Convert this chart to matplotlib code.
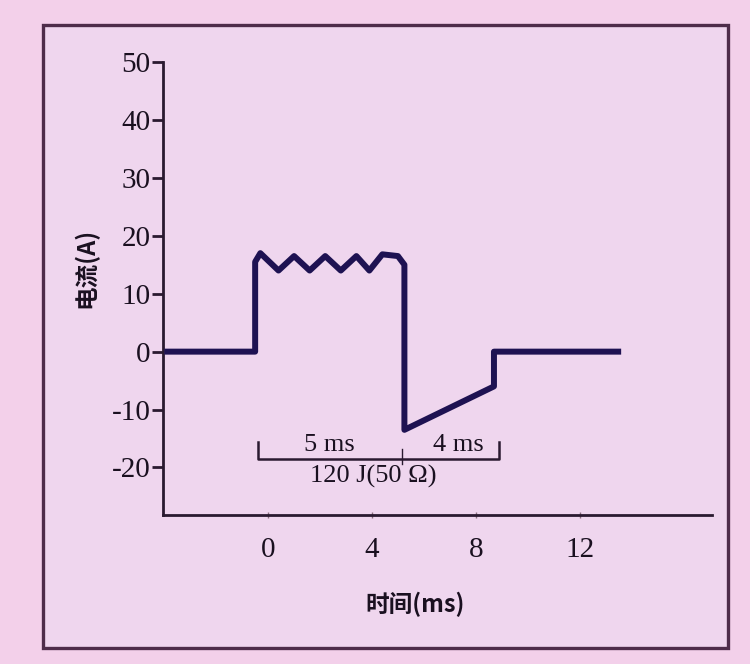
import matplotlib
matplotlib.use("Agg")
import matplotlib.pyplot as plt
from matplotlib.patches import Rectangle

# waveform (biphasic pulse), time in ms, current in A
t_ms = [-4.0, -0.5, -0.5, -0.3, 0.4, 1.0, 1.6, 2.2, 2.8, 3.4, 3.9, 4.4, 5.0, 5.25, 5.25, 8.7, 8.7, 13.6]
current = [0, 0, 15.5, 17, 14, 16.5, 14, 16.5, 14, 16.5, 14, 16.8, 16.5, 15, -13.5, -6, 0, 0]

x_ticks = [0, 4, 8, 12]
y_ticks = [-20, -10, 0, 10, 20, 30, 40, 50]

# phase durations shown in the bracket
phase_edges = [-0.4, 5.15, 8.9]
phase_labels = ['5 ms', '4 ms']
energy_label = '120 J(50 Ω)'

x_label = '时间(ms)'
y_label = '电流(A)'

W, H = 750, 664
fig = plt.figure(figsize=(W / 100, H / 100), dpi=100)
fig.patch.set_facecolor('#f3d0ea')

# outer frame
frame = Rectangle((43 / W, 1 - 648 / H), (728 - 43) / W, (648 - 25) / H,
                  transform=fig.transFigure, facecolor='#efd6ee',
                  edgecolor='#4e2c4a', linewidth=2.4, zorder=-5)
fig.patches.append(frame)

ax = fig.add_axes([163 / W, 1 - 515 / H, (712 - 163) / W, (515 - 62) / H])
ax.set_zorder(2)
ax.set_facecolor('none')
ax.set_xlim(-4.05, 17.1)
ax.set_ylim(-28.2, 50)

axis_col = '#2a1a30'
for s in ['top', 'right']:
    ax.spines[s].set_visible(False)
for s in ['left', 'bottom']:
    ax.spines[s].set_color(axis_col)
    ax.spines[s].set_linewidth(2.0)

serif = ['Liberation Serif', 'DejaVu Serif']
cjk = ['Noto Sans CJK SC', 'DejaVu Sans']

ax.set_yticks(y_ticks)
ax.set_yticklabels([str(v) for v in y_ticks], family=serif, fontsize=21)
ax.set_xticks(x_ticks)
ax.set_xticklabels([str(v) for v in x_ticks], family=serif, fontsize=21)
ax.tick_params(axis='y', direction='out', length=8, width=2, color=axis_col,
               labelcolor='#1a1020', pad=1)
ax.tick_params(axis='x', direction='inout', length=4, width=1, color='#8a7080',
               labelcolor='#1a1020', pad=14)

ax.plot(t_ms, current, color='#1e1252', linewidth=4.3,
        solid_joinstyle='round', solid_capstyle='butt', zorder=3)

# bracket with phase durations
by = -18.6
ax.plot([phase_edges[0], phase_edges[0], phase_edges[2], phase_edges[2]],
        [by + 3.0, by, by, by + 3.0], color=axis_col, linewidth=1.8, zorder=2)
ax.plot([phase_edges[1], phase_edges[1]], [by + 1.8, by - 0.8],
        color=axis_col, linewidth=1.0, zorder=2)
for i, lab in enumerate(phase_labels):
    xm = (phase_edges[i] + phase_edges[i + 1]) / 2
    if i == 1:
        xm += 0.3
    ax.text(xm, by + 0.6, lab, ha='center', va='bottom', family=serif,
            fontsize=19, color='#1a1020')
ax.text((phase_edges[0] + phase_edges[2]) / 2 - 0.2, by - 0.9, energy_label,
        ha='center', va='top', family=serif, fontsize=19, color='#1a1020')

fig.text(86 / W, 1 - 268 / H, y_label, rotation=90, ha='center', va='center',
         family=cjk, fontsize=17, fontweight='bold', color='#1a1020')
fig.text(415 / W, 1 - 604 / H, x_label, ha='center', va='center',
         family=cjk, fontsize=17, fontweight='bold', color='#1a1020')

fig.savefig('out.png', dpi=100, facecolor=fig.get_facecolor())
